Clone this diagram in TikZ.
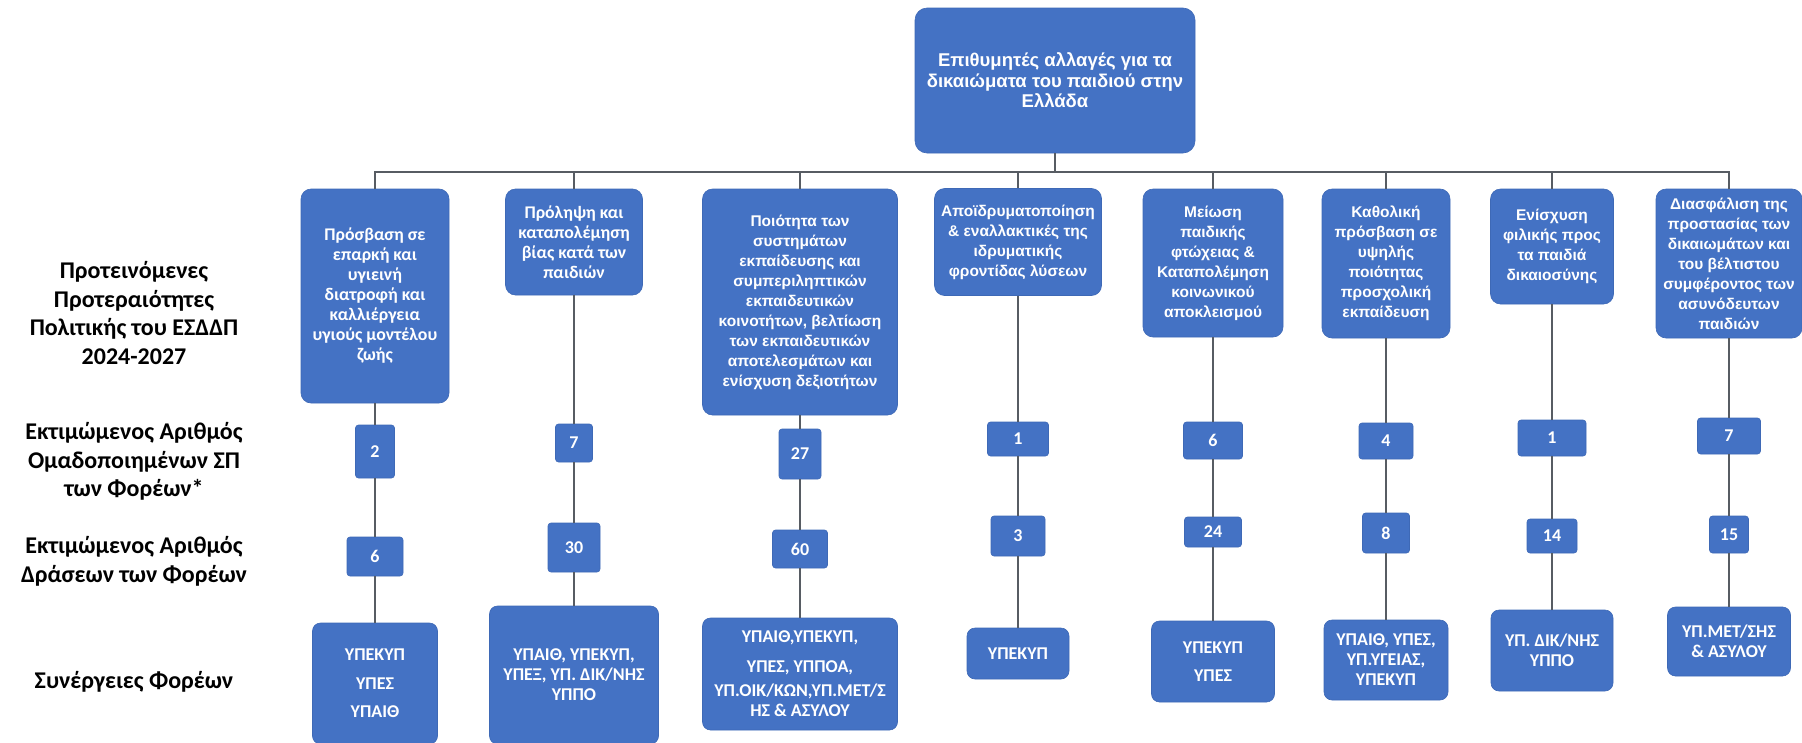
\documentclass[tikz,border=0pt]{standalone}
\usepackage{fontspec}
\setmainfont{Carlito}
\newfontfamily\lsb{Liberation Sans}
\definecolor{boxblue}{HTML}{4472C4}
\definecolor{boxedge}{HTML}{3E69B6}
\definecolor{linegray}{HTML}{575C63}
\tikzset{
  box/.style={fill=boxblue, draw=boxedge, line width=0.6pt, rounded corners=10pt,
    text=white, align=center, inner sep=0pt},
  dvtext/.style={font=\lsb\bfseries\fontsize{15.5}{20}\selectfont},
  cbtext/.style={font=\bfseries\fontsize{17.8}{20}\selectfont},
  numbox/.style={box, rounded corners=3pt, font=\bfseries\fontsize{18}{20}\selectfont},
  agbox/.style={box, rounded corners=8pt, font=\bfseries\fontsize{18}{20}\selectfont},
  rowlabel/.style={font=\bfseries\fontsize{24}{28.7}\selectfont, align=center, text=black, inner sep=0pt},
  conn/.style={draw=linegray, line width=1.3pt},
}
\begin{document}
\begin{tikzpicture}[x=1pt,y=-1pt]
\fill[white] (0,0) rectangle (1802,742);
\useasboundingbox (0,0) rectangle (1802,742);

% row labels
\node[rowlabel] (l1) at (134,313) {Προτεινόμενες\\Προτεραιότητες\\Πολιτικής του ΕΣΔΔΠ\\2024-2027};
\node[rowlabel] (l2) at (134,461.5) {Εκτιμώμενος Αριθμός\\Ομαδοποιημένων ΣΠ\\των Φορέων*};
\node[rowlabel] (l3) at (134,561) {Εκτιμώμενος Αριθμός\\Δράσεων των Φορέων};
\node[rowlabel] (l4) at (134,682) {Συνέργειες Φορέων};

% top
\node[box, rounded corners=12pt, minimum width=280pt, minimum height=145pt,
  font=\lsb\bfseries\fontsize{18.5}{20.5}\selectfont] (top) at (1055,80.5)
  {Επιθυμητές αλλαγές για τα\\δικαιώματα του παιδιού στην\\Ελλάδα};
\coordinate (bus) at (0,172);

% level 1
\node[box, cbtext, minimum width=148pt, minimum height=214pt] (c1) at (375,296)
  {Πρόσβαση σε\\επαρκή και\\υγιεινή\\διατροφή και\\καλλιέργεια\\υγιούς μοντέλου\\ζωής};
\node[box, cbtext, minimum width=137pt, minimum height=106pt] (c2) at (574,242)
  {Πρόληψη και\\καταπολέμηση\\βίας κατά των\\παιδιών};
\node[box, dvtext, minimum width=195pt, minimum height=226pt] (c3) at (800,302)
  {Ποιότητα των\\συστημάτων\\εκπαίδευσης και\\συμπεριληπτικών\\εκπαιδευτικών\\κοινοτήτων, βελτίωση\\των εκπαιδευτικών\\αποτελεσμάτων και\\ενίσχυση δεξιοτήτων};
\node[box, dvtext, minimum width=167pt, minimum height=107pt] (c4) at (1018,242)
  {Αποϊδρυματοποίηση\\\& εναλλακτικές της\\ιδρυματικής\\φροντίδας λύσεων};
\node[box, dvtext, minimum width=140pt, minimum height=148pt] (c5) at (1213,263)
  {Μείωση\\παιδικής\\φτώχειας \&\\Καταπολέμηση\\κοινωνικού\\αποκλεισμού};
\node[box, dvtext, minimum width=128pt, minimum height=149pt] (c6) at (1386,263.5)
  {Καθολική\\πρόσβαση σε\\υψηλής\\ποιότητας\\προσχολική\\εκπαίδευση};
\node[box, dvtext, minimum width=123pt, minimum height=115pt] (c7) at (1552,246.5)
  {Ενίσχυση\\φιλικής προς\\τα παιδιά\\δικαιοσύνης};
\node[box, dvtext, minimum width=146pt, minimum height=149pt] (c8) at (1729,263.5)
  {Διασφάλιση της\\προστασίας των\\δικαιωμάτων και\\του βέλτιστου\\συμφέροντος των\\ασυνόδευτων\\παιδιών};

% numbers row 1
\node[numbox, minimum width=39pt, minimum height=53pt] (n1) at (375,451.5) {2};
\node[numbox, minimum width=37pt, minimum height=38pt] (n2) at (574,443) {7};
\node[numbox, minimum width=42pt, minimum height=50pt] (n3) at (800,454) {27};
\node[numbox, minimum width=61pt, minimum height=34pt] (n4) at (1018,439) {1};
\node[numbox, minimum width=59pt, minimum height=37pt] (n5) at (1213,440.5) {6};
\node[numbox, minimum width=54pt, minimum height=36pt] (n6) at (1386,441) {4};
\node[numbox, minimum width=68pt, minimum height=36pt] (n7) at (1552,438) {1};
\node[numbox, minimum width=63pt, minimum height=36pt] (n8) at (1729,436) {7};

% numbers row 2
\node[numbox, minimum width=56pt, minimum height=39pt] (m1) at (375,556.5) {6};
\node[numbox, minimum width=52pt, minimum height=49pt] (m2) at (574,547.5) {30};
\node[numbox, minimum width=55pt, minimum height=38pt] (m3) at (800,549) {60};
\node[numbox, minimum width=54pt, minimum height=40pt] (m4) at (1018,536) {3};
\node[numbox, minimum width=57pt, minimum height=30pt] (m5) at (1213,532) {24};
\node[numbox, minimum width=47pt, minimum height=40pt] (m6) at (1386,533) {8};
\node[numbox, minimum width=50pt, minimum height=34pt] (m7) at (1552,536) {14};
\node[numbox, minimum width=39pt, minimum height=37pt] (m8) at (1729,534.5) {15};

% bottom
\node[agbox, minimum width=125pt, minimum height=121pt] (b1) at (375,683.5)
  {ΥΠΕΚΥΠ\\[8.5pt]ΥΠΕΣ\\[8.5pt]ΥΠΑΙΘ};
\node[agbox, minimum width=169pt, minimum height=138pt] (b2) at (574,675)
  {ΥΠΑΙΘ, ΥΠΕΚΥΠ,\\ΥΠΕΞ, ΥΠ. ΔΙΚ/ΝΗΣ\\ΥΠΠΟ};
\node[agbox, minimum width=195pt, minimum height=112pt] (b3) at (800,674)
  {ΥΠΑΙΘ,ΥΠΕΚΥΠ,\\[10pt]ΥΠΕΣ, ΥΠΠΟΑ,\\[4pt]ΥΠ.ΟΙΚ/ΚΩΝ,ΥΠ.ΜΕΤ/Σ\\ΗΣ \& ΑΣΥΛΟΥ};
\node[agbox, minimum width=102pt, minimum height=51pt] (b4) at (1018,653.5) {ΥΠΕΚΥΠ};
\node[agbox, minimum width=123pt, minimum height=81pt] (b5) at (1213,661.5)
  {ΥΠΕΚΥΠ\\[8pt]ΥΠΕΣ};
\node[agbox, minimum width=124pt, minimum height=80pt] (b6) at (1386,660)
  {ΥΠΑΙΘ, ΥΠΕΣ,\\ΥΠ.ΥΓΕΙΑΣ,\\ΥΠΕΚΥΠ};
\node[agbox, minimum width=122pt, minimum height=81pt] (b7) at (1552,650.5)
  {ΥΠ. ΔΙΚ/ΝΗΣ\\ΥΠΠΟ};
\node[agbox, minimum width=123pt, minimum height=69pt] (b8) at (1729,641.5)
  {ΥΠ.ΜΕΤ/ΣΗΣ\\\& ΑΣΥΛΟΥ};

% connectors
\foreach \i in {1,...,8}{
  \draw[conn] (top.south) |- (c\i.north |- bus) -- (c\i.north);
  \draw[conn] (c\i) -- (n\i);
  \draw[conn] (n\i) -- (m\i);
  \draw[conn] (m\i) -- (b\i);
}
\end{tikzpicture}
\end{document}
